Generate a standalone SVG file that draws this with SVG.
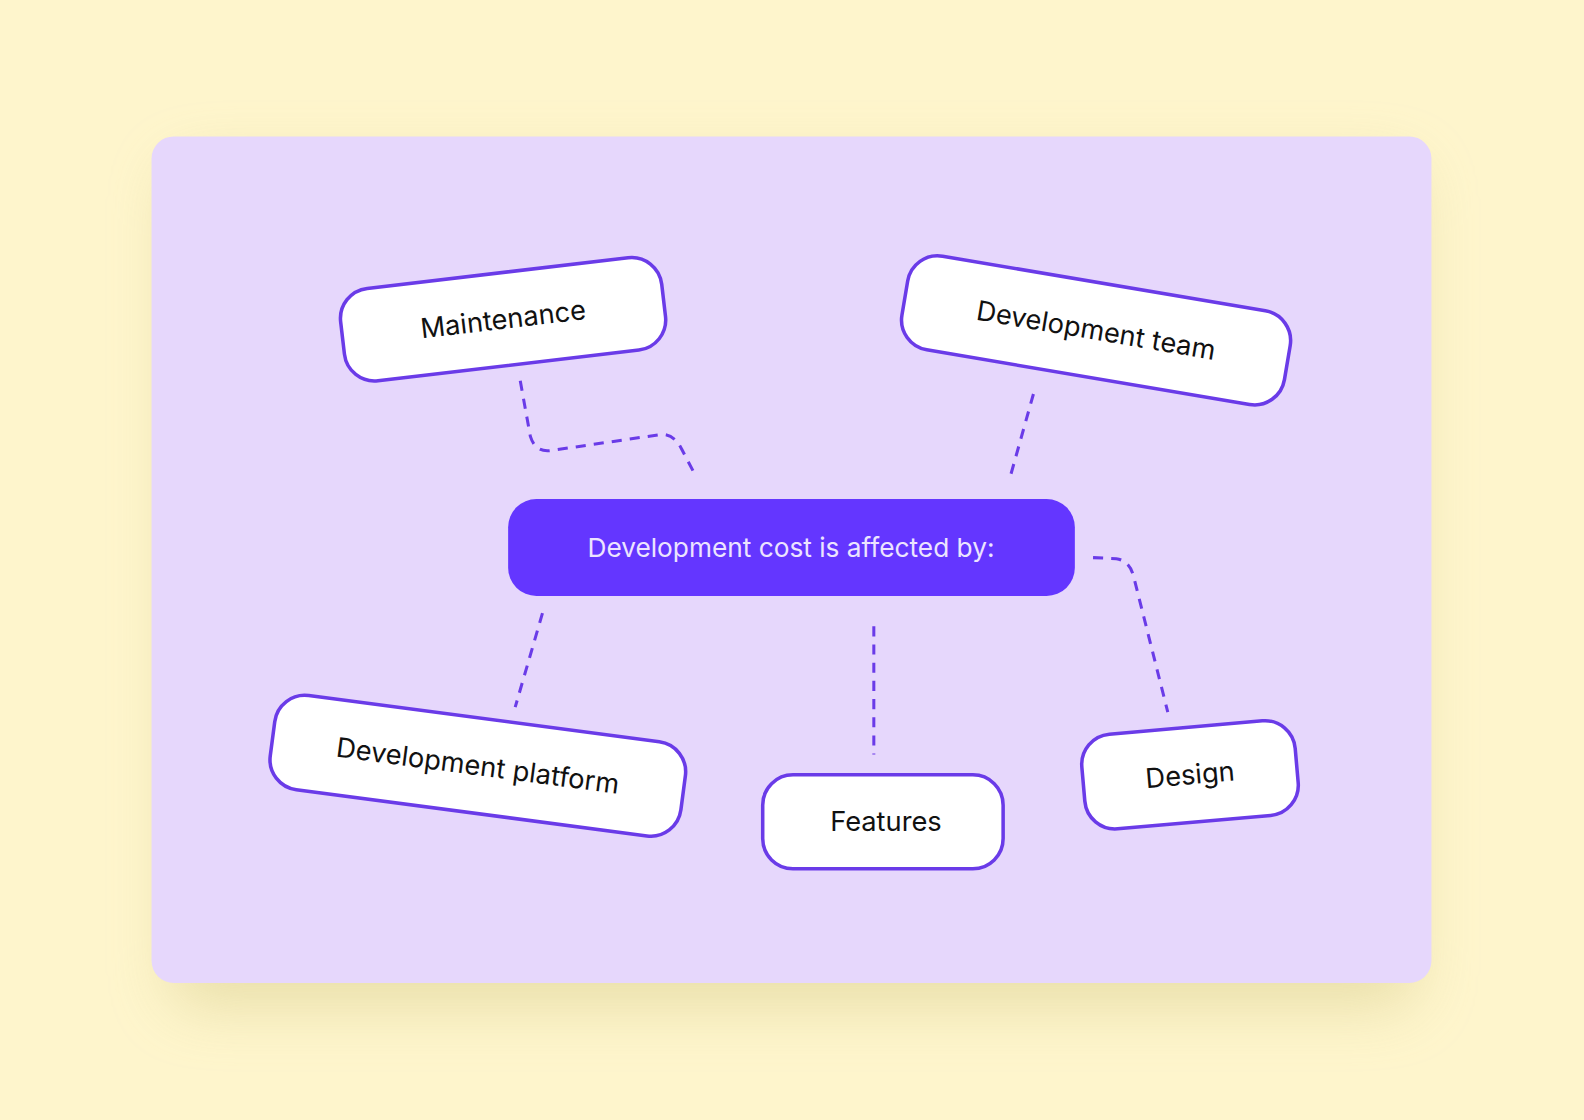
<svg xmlns="http://www.w3.org/2000/svg" width="1584" height="1120" viewBox="0 0 1584 1120">
<defs>
<filter id="sh" x="-20%" y="-20%" width="140%" height="140%"><feGaussianBlur stdDeviation="30"/></filter>
<style>
.n{fill:#fff;stroke:#6A3BE8;stroke-width:3.5}
.t{font-family:Inter,"Noto Sans",sans-serif;font-size:27px;fill:#111;text-anchor:middle;dominant-baseline:central}
.c{fill:none;stroke:#6A3BE8;stroke-width:3;stroke-dasharray:10 8}
</style>
</defs>
<rect width="1584" height="1120" fill="#FEF5CC"/>
<g transform="scale(1.0102)">
<rect x="170" y="165" width="1230" height="830" rx="22" fill="#E3D9A0" opacity="0.8" filter="url(#sh)"/>
<rect x="150" y="135" width="1267" height="838" rx="22" fill="#E6D7FC"/>
<g id="connectors">
<path class="c" d="M515 377 L525 432 Q530 448 545 446 L655 430 Q668 430 675 445 L686 466"/>
<path class="c" d="M1023 390 L1000 472"/>
<path class="c" d="M537 607 L510 700"/>
<path class="c" d="M865 620 L865 747"/>
<path class="c" d="M1082 552 L1105 553 Q1118 555 1122 570 L1156 705"/>
</g>
<g id="center">
<rect x="503" y="494" width="561" height="96" rx="28" fill="#6436FF"/>
<text class="t" x="783" y="542" style="fill:#ECE4FF;font-size:26px">Development cost is affected by:</text>
</g>
<g id="maintenance" transform="translate(498 316) rotate(-6.7)">
<rect class="n" x="-160" y="-46" width="320" height="92" rx="30"/>
<text class="t" x="0" y="0">Maintenance</text>
</g>
<g id="devteam" transform="translate(1085 327) rotate(9.6)">
<rect class="n" x="-192" y="-47" width="384" height="94" rx="30"/>
<text class="t" x="0" y="0">Development team</text>
</g>
<g id="platform" transform="translate(473 758) rotate(7.5)">
<rect class="n" x="-205" y="-47" width="410" height="94" rx="30"/>
<text class="t" x="0" y="0">Development platform</text>
</g>
<g id="features">
<rect class="n" x="755" y="767" width="238" height="93" rx="30"/>
<text class="t" x="877" y="813">Features</text>
</g>
<g id="design" transform="translate(1178 767) rotate(-5)">
<rect class="n" x="-106" y="-47" width="212" height="94" rx="30"/>
<text class="t" x="0" y="0">Design</text>
</g>
</g>
</svg>
